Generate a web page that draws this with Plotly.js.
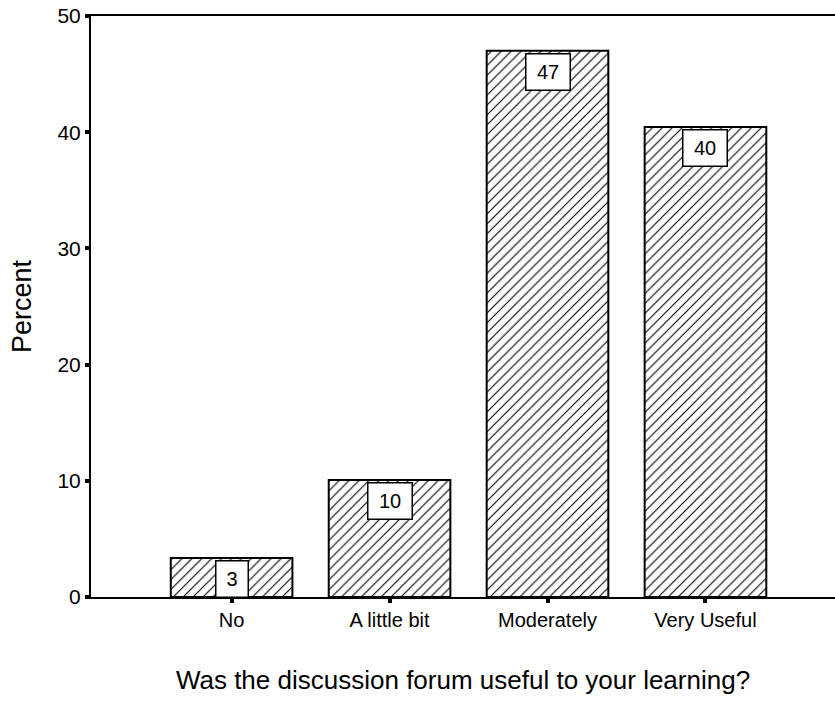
<!DOCTYPE html>
<html>
<head>
<meta charset="utf-8">
<script src="https://cdn.plot.ly/plotly-3.0.1.min.js"></script>
<style>html,body{margin:0;padding:0;background:#fff;}#chart{width:835px;height:701px;}</style>
</head>
<body>
<div id="chart"></div>
<script>
const categories = ["No", "A little bit", "Moderately", "Very Useful"];
const percents = [3.35, 10.07, 47.0, 40.45];
const barLabels = ["3", "10", "47", "40"];
const yTicks = [0, 10, 20, 30, 40, 50];

const FONT = "Arial, 'Liberation Sans', sans-serif";

const trace = {
  type: "bar",
  x: categories,
  y: percents,
  width: 0.77,
  marker: {
    color: "#ffffff",
    line: {color: "#000000", width: 2},
    pattern: {shape: "/", fgcolor: "#000000", bgcolor: "#ffffff", size: 7, solidity: 0.16}
  },
  hoverinfo: "skip"
};

const annotations = categories.map((c, i) => ({
  x: c, y: percents[i], xref: "x", yref: "y",
  text: barLabels[i],
  showarrow: false,
  yanchor: "top",
  yshift: -2,
  width: barLabels[i].length > 1 ? 43 : 31,
  height: 35,
  bgcolor: "#ffffff",
  bordercolor: "#000000",
  borderwidth: 1.5,
  borderpad: 0,
  font: {family: FONT, size: 20, color: "#000"}
}));

const layout = {
  width: 835, height: 701,
  margin: {l: 91, r: 0, t: 16, b: 104},
  paper_bgcolor: "#fff", plot_bgcolor: "#fff",
  showlegend: false,
  font: {family: FONT, color: "#000"},
  xaxis: {
    type: "category",
    range: [-0.89, 3.82],
    showline: true, linecolor: "#000", linewidth: 2, mirror: true,
    ticks: "outside", ticklen: 4, tickwidth: 4, tickcolor: "#000",
    tickfont: {family: FONT, size: 20, color: "#000"},
    showgrid: false, zeroline: false,
    title: {text: "Was the discussion forum useful to your learning?", font: {family: FONT, size: 26, color: "#000"}, standoff: 41}
  },
  yaxis: {
    range: [0, 50],
    tickvals: yTicks,
    ticktext: yTicks.map(String),
    showline: true, linecolor: "#000", linewidth: 2,
    ticks: "outside", ticklen: 4, tickwidth: 4, tickcolor: "#000",
    tickfont: {family: FONT, size: 21, color: "#000"},
    showgrid: false, zeroline: false,
    title: {text: "Percent", font: {family: FONT, size: 27, color: "#000"}, standoff: 18}
  },
  annotations: annotations
};

Plotly.newPlot("chart", [trace], layout, {displayModeBar: false, staticPlot: true});
</script>
</body>
</html>
